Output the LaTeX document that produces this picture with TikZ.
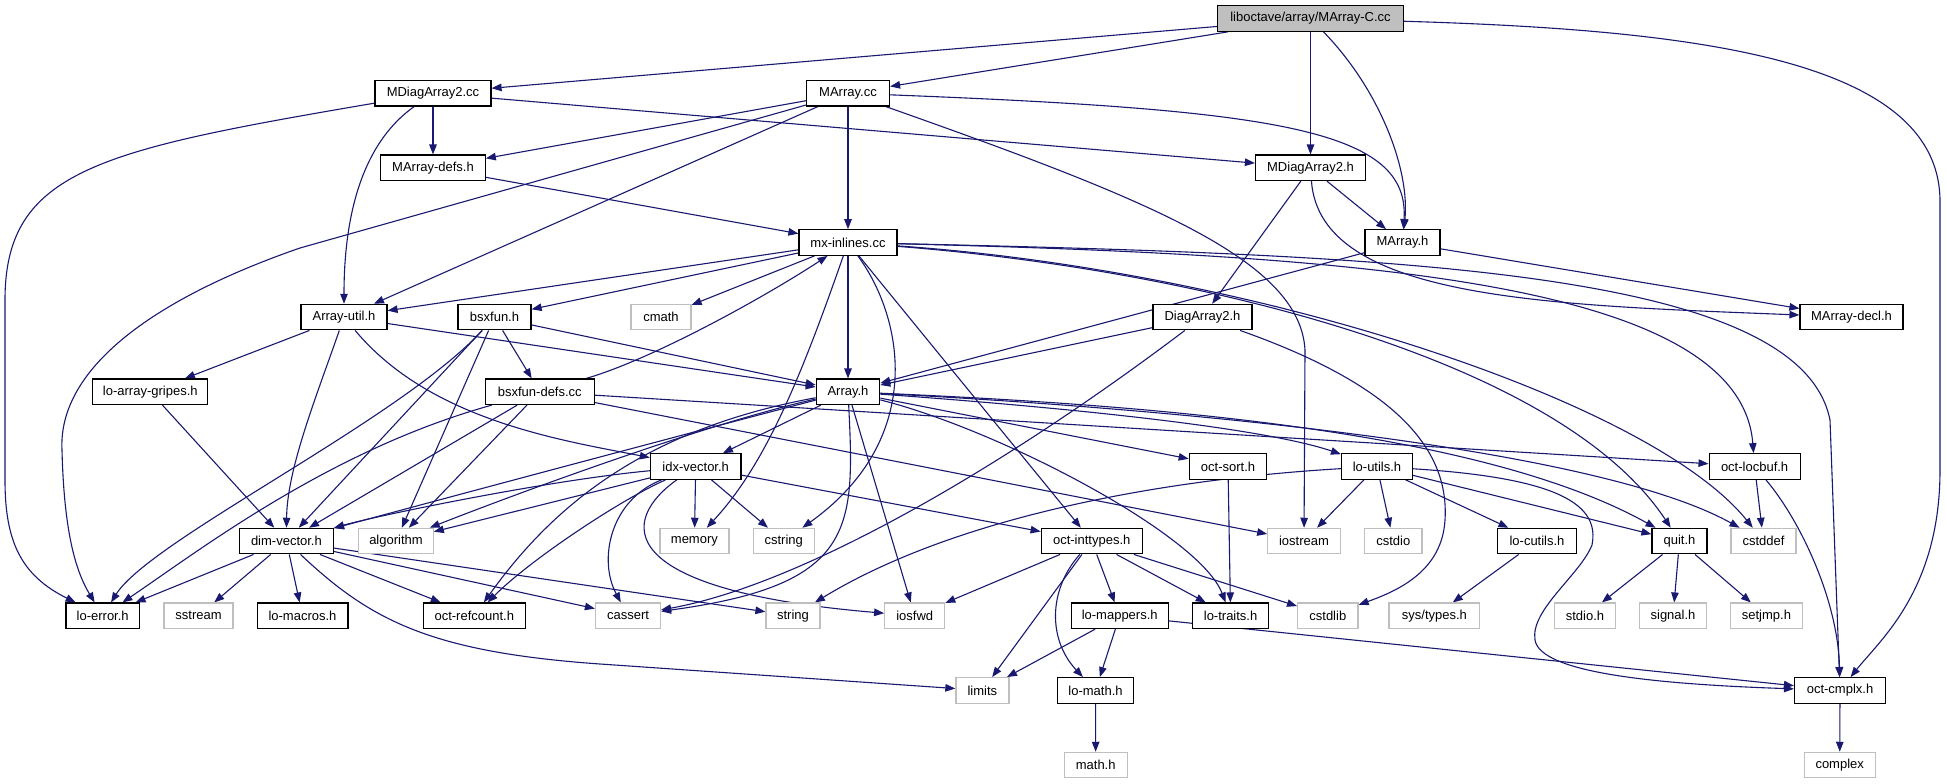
\documentclass[tikz,border=0pt]{standalone}
\usepackage{fontspec}
\setmainfont{Liberation Sans}
\usetikzlibrary{arrows.meta}
\pgfdeclarelayer{bg}
\pgfsetlayers{bg,main}
\definecolor{edgec}{HTML}{191970}
\definecolor{grayb}{HTML}{BFBFBF}
\begin{document}
\begin{tikzpicture}[x=1pt,y=-1pt,
  box/.style={draw=black,line width=1.2pt,fill=white,minimum height=25.5pt,inner sep=0pt,font=\fontsize{13}{15}\selectfont,text=black},
  sys/.style={box,draw=grayb},
  root/.style={box,fill=grayb},
  e/.style={draw=edgec,line width=1.1pt,-{Triangle[length=10pt,width=7.5pt]}}]
\useasboundingbox (0,0) rectangle (1947,784);
% nodes
\node[root,minimum width=186pt] (mac) at (1310.5,18.5) {liboctave/array/MArray-C.cc};
\node[box,minimum width=116pt] (mda2cc) at (433,93.2) {MDiagArray2.cc};
\node[box,minimum width=83pt] (macc) at (848,93.2) {MArray.cc};
\node[box,minimum width=104.5pt] (madefs) at (433,167.8) {MArray-defs.h};
\node[box,minimum width=110pt] (mda2h) at (1310.5,167.8) {MDiagArray2.h};
\node[box,minimum width=98pt] (mxin) at (848,242.5) {mx-inlines.cc};
\node[box,minimum width=75pt] (marrh) at (1402.5,242.5) {MArray.h};
\node[box,minimum width=86pt] (autil) at (344,317.1) {Array-util.h};
\node[box,minimum width=73pt] (bsxh) at (494.5,317.1) {bsxfun.h};
\node[sys,minimum width=60pt] (cmath) at (661,317.1) {cmath};
\node[box,minimum width=99pt] (da2h) at (1202.5,317.1) {DiagArray2.h};
\node[box,minimum width=103pt] (madecl) at (1851.5,317.1) {MArray-decl.h};
\node[box,minimum width=115pt] (lagr) at (150.3,391.8) {lo-array-gripes.h};
\node[box,minimum width=108.6pt] (bsxdefs) at (539.8,391.8) {bsxfun-defs.cc};
\node[box,minimum width=63.5pt] (arrh) at (848,391.8) {Array.h};
\node[box,minimum width=90.6pt] (idxv) at (695.7,466.5) {idx-vector.h};
\node[box,minimum width=77.5pt] (osort) at (1228,466.5) {oct-sort.h};
\node[box,minimum width=71pt] (loutils) at (1377,466.5) {lo-utils.h};
\node[box,minimum width=91pt] (olocbuf) at (1754.6,466.5) {oct-locbuf.h};
\node[box,minimum width=94pt] (dimv) at (286.4,541.1) {dim-vector.h};
\node[sys,minimum width=74.5pt] (algo) at (396,541.1) {algorithm};
\node[sys,minimum width=69pt] (memory) at (694.4,541.1) {memory};
\node[sys,minimum width=61pt] (cstring) at (783.7,541.1) {cstring};
\node[box,minimum width=101pt] (oint) at (1091.7,541.1) {oct-inttypes.h};
\node[sys,minimum width=72.5pt] (iostream) at (1304,541.1) {iostream};
\node[sys,minimum width=57.3pt] (cstdio) at (1393.3,541.1) {cstdio};
\node[box,minimum width=78.7pt] (locutils) at (1537,541.1) {lo-cutils.h};
\node[box,minimum width=55pt] (quit) at (1679.5,541.1) {quit.h};
\node[sys,minimum width=65pt] (cstddef) at (1763.5,541.1) {cstddef};
\node[box,minimum width=73.3pt] (loerr) at (102.7,615.8) {lo-error.h};
\node[sys,minimum width=69pt] (sstream) at (198.5,615.8) {sstream};
\node[box,minimum width=90.8pt] (lomacros) at (302.5,615.8) {lo-macros.h};
\node[box,minimum width=102pt] (orefc) at (474.3,615.8) {oct-refcount.h};
\node[sys,minimum width=65pt] (cassert) at (628,615.8) {cassert};
\node[sys,minimum width=54pt] (string) at (793,615.8) {string};
\node[sys,minimum width=60pt] (iosfwd) at (914.7,615.8) {iosfwd};
\node[box,minimum width=97pt] (lomap) at (1119.7,615.8) {lo-mappers.h};
\node[box,minimum width=76.4pt] (lotraits) at (1230.6,615.8) {lo-traits.h};
\node[sys,minimum width=60.4pt] (cstdlib) at (1327.8,615.8) {cstdlib};
\node[sys,minimum width=90.8pt] (systypes) at (1434.4,615.8) {sys/types.h};
\node[sys,minimum width=61.4pt] (stdioh) at (1585,615.8) {stdio.h};
\node[sys,minimum width=66.6pt] (signalh) at (1673,615.8) {signal.h};
\node[sys,minimum width=72pt] (setjmph) at (1766.4,615.8) {setjmp.h};
\node[sys,minimum width=53pt] (limits) at (982.4,690.4) {limits};
\node[box,minimum width=76pt] (lomath) at (1095.5,690.4) {lo-math.h};
\node[box,minimum width=91pt] (ocmplx) at (1840,690.4) {oct-cmplx.h};
\node[sys,minimum width=63pt] (mathh) at (1095.7,765.1) {math.h};
\node[sys,minimum width=71pt] (complex) at (1839.7,765.1) {complex};
% edges
\begin{pgfonlayer}{bg}
\fill[white] (0,0) rectangle (1947,784);
% MArray-C.cc
\draw[e] (mac) -- (mda2cc);
\draw[e] (mac) -- (macc);
\draw[e] (mac) -- (mda2h);
\draw[e] (mac) .. controls (1380,90) and (1410,170) .. (marrh);
\draw[e] (mac) .. controls (1700,30) and (1938,60) .. (1940,200) -- (1940,470) .. controls (1940,590) and (1880,640) .. (ocmplx);
% MDiagArray2.cc
\draw[e] (mda2cc) .. controls (100,150) and (5,170) .. (5,300) -- (5,480) .. controls (5,540) and (20,575) .. (loerr);
\draw[e] (mda2cc) .. controls (360,145) and (344,220) .. (autil);
\draw[e] (mda2cc) -- (madefs);
\draw[e] (mda2cc) -- (mda2h);
% MArray.cc
\draw[e] (macc) -- (madefs);
\draw[e] (macc) -- (300,248) .. controls (150,300) and (58,370) .. (62,450) .. controls (64,530) and (75,570) .. (loerr);
\draw[e] (macc) -- (autil);
\draw[e] (macc) -- (mxin);
\draw[e] (macc) .. controls (1280,110) and (1410,130) .. (marrh);
\draw[e] (macc) .. controls (1150,200) and (1300,260) .. (1305,350) -- (iostream);
% MArray-defs.h
\draw[e] (madefs) -- (mxin);
% MDiagArray2.h
\draw[e] (mda2h) -- (marrh);
\draw[e] (mda2h) -- (da2h);
\draw[e] (mda2h) .. controls (1320,300) and (1550,305) .. (madecl);
% MArray.h
\draw[e] (marrh) -- (arrh);
\draw[e] (marrh) -- (madecl);
% mx-inlines.cc
\draw[e] (mxin) -- (autil);
\draw[e] (mxin) -- (bsxh);
\draw[e] (mxin) -- (cmath);
\draw[e] (mxin) -- (arrh);
\draw[e] (mxin) .. controls (800,380) and (765,465) .. (memory);
\draw[e] (mxin) .. controls (905,320) and (925,440) .. (cstring);
\draw[e] (mxin) -- (oint);
\draw[e] (mxin) .. controls (1200,270) and (1560,360) .. (quit);
\draw[e] (mxin) .. controls (1250,270) and (1650,400) .. (cstddef);
\draw[e] (mxin) .. controls (1350,255) and (1740,280) .. (olocbuf);
\draw[e] (mxin) .. controls (1400,255) and (1800,270) .. (1830,420) -- (ocmplx);
% Array-util.h
\draw[e] (autil) -- (lagr);
\draw[e] (autil) .. controls (315,400) and (287,470) .. (dimv);
\draw[e] (autil) .. controls (430,420) and (560,440) .. (idxv);
\draw[e] (autil) -- (arrh);
% bsxfun.h
\draw[e] (bsxh) -- (bsxdefs);
\draw[e] (bsxh) -- (arrh);
\draw[e] (bsxh) -- (dimv);
\draw[e] (bsxh) -- (algo);
\draw[e] (bsxh) .. controls (400,420) and (150,540) .. (loerr);
% DiagArray2.h
\draw[e] (da2h) -- (arrh);
\draw[e] (da2h) .. controls (1000,470) and (800,585) .. (cassert);
\draw[e] (da2h) .. controls (1380,380) and (1450,440) .. (1445,520) .. controls (1442,570) and (1400,590) .. (cstdlib);
% lo-array-gripes.h
\draw[e] (lagr) -- (dimv);
% bsxfun-defs.cc
\draw[e] (bsxdefs) .. controls (650,360) and (760,300) .. (mxin);
\draw[e] (bsxdefs) .. controls (330,450) and (200,550) .. (loerr);
\draw[e] (bsxdefs) -- (dimv);
\draw[e] (bsxdefs) -- (algo);
\draw[e] (bsxdefs) -- (olocbuf);
\draw[e] (bsxdefs) -- (iostream);
% Array.h
\draw[e] (arrh) -- (idxv);
\draw[e] (arrh) .. controls (700,430) and (420,505) .. (dimv);
\draw[e] (arrh) .. controls (700,425) and (500,500) .. (algo);
\draw[e] (arrh) .. controls (640,430) and (550,510) .. (orefc);
\draw[e] (arrh) .. controls (855,530) and (855,585) .. (cassert);
\draw[e] (arrh) -- (iosfwd);
\draw[e] (arrh) -- (osort);
\draw[e] (arrh) .. controls (1100,410) and (1270,430) .. (loutils);
\draw[e] (arrh) .. controls (1150,405) and (1480,430) .. (quit);
\draw[e] (arrh) .. controls (1200,410) and (1600,450) .. (cstddef);
\draw[e] (arrh) .. controls (1000,430) and (1200,535) .. (lotraits);
% idx-vector.h
\draw[e] (idxv) .. controls (550,480) and (380,515) .. (dimv);
\draw[e] (idxv) -- (algo);
\draw[e] (idxv) -- (memory);
\draw[e] (idxv) -- (cstring);
\draw[e] (idxv) .. controls (610,500) and (598,560) .. (cassert);
\draw[e] (idxv) .. controls (620,500) and (530,560) .. (orefc);
\draw[e] (idxv) .. controls (620,520) and (610,590) .. (iosfwd);
\draw[e] (idxv) -- (oint);
% oct-sort.h
\draw[e] (osort) -- (lotraits);
% lo-utils.h
\draw[e] (loutils) -- (iostream);
\draw[e] (loutils) -- (cstdio);
\draw[e] (loutils) -- (locutils);
\draw[e] (loutils) -- (quit);
\draw[e] (loutils) .. controls (1150,480) and (950,520) .. (string);
\draw[e] (loutils) .. controls (1560,478) and (1600,505) .. (1592,545) .. controls (1580,575) and (1530,610) .. (1535,640) .. controls (1540,672) and (1650,684) .. (ocmplx);
% oct-locbuf.h
\draw[e] (olocbuf) -- (cstddef);
\draw[e] (olocbuf) .. controls (1800,520) and (1838,600) .. (ocmplx);
% dim-vector.h
\draw[e] (dimv) -- (loerr);
\draw[e] (dimv) -- (sstream);
\draw[e] (dimv) -- (lomacros);
\draw[e] (dimv) -- (orefc);
\draw[e] (dimv) -- (cassert);
\draw[e] (dimv) -- (string);
\draw[e] (dimv) .. controls (370,620) and (430,652) .. (600,664) -- (limits);
% oct-inttypes.h
\draw[e] (oint) -- (iosfwd);
\draw[e] (oint) -- (limits);
\draw[e] (oint) .. controls (1048,590) and (1048,640) .. (lomath);
\draw[e] (oint) -- (lomap);
\draw[e] (oint) -- (lotraits);
\draw[e] (oint) -- (cstdlib);
% others
\draw[e] (locutils) -- (systypes);
\draw[e] (quit) -- (stdioh);
\draw[e] (quit) -- (signalh);
\draw[e] (quit) -- (setjmph);
\draw[e] (lomap) -- (limits);
\draw[e] (lomap) -- (lomath);
\draw[e] (lomap) -- (ocmplx);
\draw[e] (lomath) -- (mathh);
\draw[e] (ocmplx) -- (complex);
\end{pgfonlayer}
\end{tikzpicture}
\end{document}
